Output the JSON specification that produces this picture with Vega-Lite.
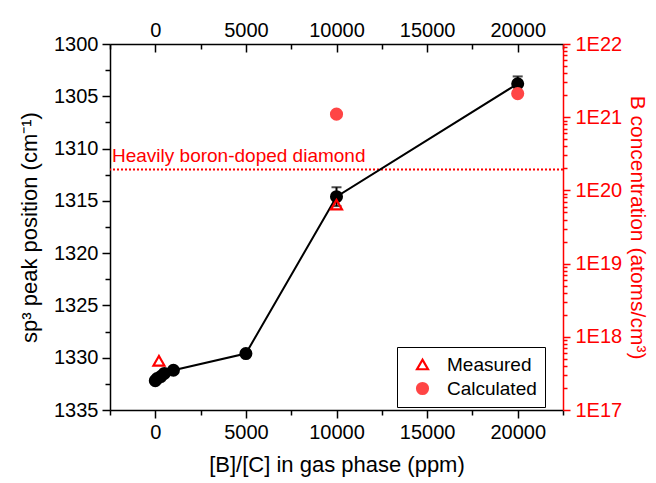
{
  "$schema": "https://vega.github.io/schema/vega-lite/v6.json",
  "width": 453,
  "height": 366,
  "autosize": {"type": "none"},
  "padding": {"left": 110, "top": 44, "right": 93, "bottom": 73},
  "config": {
    "font": "Liberation Sans",
    "view": {"stroke": null},
    "axis": {"grid": false, "labelFont": "Liberation Sans", "titleFont": "Liberation Sans", "labelFontSize": 20, "titleFontSize": 22, "titleFontWeight": "normal", "labelColor": "black", "titleColor": "black", "domainColor": "black", "tickColor": "black", "domainWidth": 1.5, "tickWidth": 1.5},
    "legend": {"labelFont": "Liberation Sans", "labelFontSize": 19, "labelColor": "black"}
  },
  "datasets": {
    "shift": [
      {"ppm": 0, "pos": 1332.2},
      {"ppm": 100, "pos": 1332.0},
      {"ppm": 300, "pos": 1331.8},
      {"ppm": 500, "pos": 1331.5},
      {"ppm": 1000, "pos": 1331.2},
      {"ppm": 5000, "pos": 1329.6},
      {"ppm": 10000, "pos": 1314.6, "lo": 1313.7, "hi": 1315.5},
      {"ppm": 20000, "pos": 1303.8, "lo": 1303.1, "hi": 1304.5}
    ],
    "boron": [
      {"ppm": 200, "conc": 4.7e17, "kind": "Measured"},
      {"ppm": 10000, "conc": 6.4e19, "kind": "Measured"},
      {"ppm": 10000, "conc": 1.1e21, "kind": "Calculated"},
      {"ppm": 20000, "conc": 2.1e21, "kind": "Calculated"}
    ],
    "limit": [
      {"ppm": -2500, "pos": 1312, "label": "Heavily boron-doped diamond"}
    ]
  },
  "layer": [
    {
      "data": {"name": "limit"},
      "mark": {"type": "rule", "color": "#ff0000", "strokeWidth": 2, "strokeDash": [2, 2]},
      "encoding": {
        "y": {"field": "pos", "type": "quantitative", "scale": {"domain": [1300, 1335], "reverse": true}, "axis": null}
      }
    },
    {
      "data": {"name": "limit"},
      "mark": {"type": "text", "color": "#ff0000", "fontSize": 19, "align": "left", "baseline": "bottom", "dx": 2, "dy": -3},
      "encoding": {
        "x": {"field": "ppm", "type": "quantitative", "scale": {"domain": [-2500, 22500]}, "axis": null},
        "y": {"field": "pos", "type": "quantitative", "scale": {"domain": [1300, 1335], "reverse": true}, "axis": null},
        "text": {"field": "label"}
      }
    },
    {
      "data": {"name": "shift"},
      "transform": [{"filter": "isValid(datum.lo)"}],
      "mark": {"type": "errorbar", "color": "black", "thickness": 2, "ticks": {"size": 10, "thickness": 2}},
      "encoding": {
        "x": {"field": "ppm", "type": "quantitative", "scale": {"domain": [-2500, 22500]}, "axis": null},
        "y": {"field": "lo", "type": "quantitative", "scale": {"domain": [1300, 1335], "reverse": true}, "axis": null},
        "y2": {"field": "hi"}
      }
    },
    {
      "data": {"name": "shift"},
      "mark": {"type": "line", "color": "black", "strokeWidth": 2, "point": {"filled": true, "size": 170, "color": "black", "opacity": 1}},
      "encoding": {
        "x": {"field": "ppm", "type": "quantitative", "scale": {"domain": [-2500, 22500]},
          "axis": {"orient": "bottom", "title": "[B]/[C] in gas phase (ppm)", "values": [0, 5000, 10000, 15000, 20000], "tickSize": 8, "labelPadding": 4, "titlePadding": 12, "format": "d", "labelFlush": false}},
        "y": {"field": "pos", "type": "quantitative", "scale": {"domain": [1300, 1335], "reverse": true},
          "axis": {"orient": "left", "title": "sp³ peak position (cm⁻¹)", "values": [1300, 1305, 1310, 1315, 1320, 1325, 1330, 1335], "tickSize": 8, "labelPadding": 4, "titlePadding": 12, "format": "d", "labelFlush": false}}
      }
    },
    {
      "data": {"name": "shift"},
      "mark": {"type": "point", "opacity": 0},
      "encoding": {
        "x": {"field": "ppm", "type": "quantitative", "scale": {"domain": [-2500, 22500]},
          "axis": {"orient": "bottom", "title": null, "labels": false, "domain": false, "tickSize": 5, "values": [-2500, 2500, 7500, 12500, 17500, 22500]}},
        "y": {"field": "pos", "type": "quantitative", "scale": {"domain": [1300, 1335], "reverse": true},
          "axis": {"orient": "left", "title": null, "labels": false, "domain": false, "tickSize": 5, "values": [1302.5, 1307.5, 1312.5, 1317.5, 1322.5, 1327.5, 1332.5]}}
      }
    },
    {
      "data": {"name": "boron"},
      "mark": {"type": "point", "opacity": 0},
      "encoding": {
        "x": {"field": "ppm", "type": "quantitative", "scale": {"domain": [-2500, 22500]},
          "axis": {"orient": "top", "title": null, "labels": false, "domain": false, "tickSize": -5, "values": [-2500, 2500, 7500, 12500, 17500, 22500]}},
        "y": {"field": "conc", "type": "quantitative", "scale": {"type": "log", "domain": [1e17, 1e22]},
          "axis": {"orient": "right", "title": null, "labels": false, "domain": false, "tickSize": 4, "tickColor": "#ff0000",
            "values": [2e17, 3e17, 4e17, 5e17, 6e17, 7e17, 8e17, 9e17, 2e18, 3e18, 4e18, 5e18, 6e18, 7e18, 8e18, 9e18, 2e19, 3e19, 4e19, 5e19, 6e19, 7e19, 8e19, 9e19, 2e20, 3e20, 4e20, 5e20, 6e20, 7e20, 8e20, 9e20, 2e21, 3e21, 4e21, 5e21, 6e21, 7e21, 8e21, 9e21]}}
      }
    },
    {
      "data": {"name": "boron"},
      "mark": {"type": "point", "strokeWidth": 2.2, "opacity": 1, "size": 120},
      "encoding": {
        "x": {"field": "ppm", "type": "quantitative", "scale": {"domain": [-2500, 22500]},
          "axis": {"orient": "top", "title": null, "values": [0, 5000, 10000, 15000, 20000], "tickSize": -8, "labelPadding": 12, "format": "d", "labelFlush": false}},
        "y": {"field": "conc", "type": "quantitative", "scale": {"type": "log", "domain": [1e17, 1e22]},
          "axis": {"orient": "right", "title": "B concentration (atoms/cm³)", "values": [1e17, 1e18, 1e19, 1e20, 1e21, 1e22],
            "labelExpr": "'1E' + format(log(datum.value) / LN10, '.0f')", "tickSize": 7, "labelPadding": 5, "titlePadding": 5, "titleFontSize": 21,
            "labelColor": "#ff0000", "titleColor": "#ff0000", "domainColor": "#ff0000", "tickColor": "#ff0000", "labelFlush": false}},
        "shape": {"field": "kind", "type": "nominal", "title": null, "scale": {"domain": ["Measured", "Calculated"], "range": ["triangle-up", "circle"]},
          "legend": {"orient": "none", "legendX": 287, "legendY": 303, "strokeColor": "black", "fillColor": "white", "padding": 8, "symbolOffset": 8, "symbolSize": 120, "rowPadding": 3, "labelOffset": 15, "symbolStrokeWidth": 2.2}},
        "fill": {"field": "kind", "type": "nominal", "title": null, "scale": {"domain": ["Measured", "Calculated"], "range": ["transparent", "#ff4545"]}},
        "stroke": {"field": "kind", "type": "nominal", "title": null, "scale": {"domain": ["Measured", "Calculated"], "range": ["#ff0000", "#ff4545"]}}
      }
    }
  ],
  "resolve": {"scale": {"y": "independent"}, "axis": {"x": "independent", "y": "independent"}}
}
